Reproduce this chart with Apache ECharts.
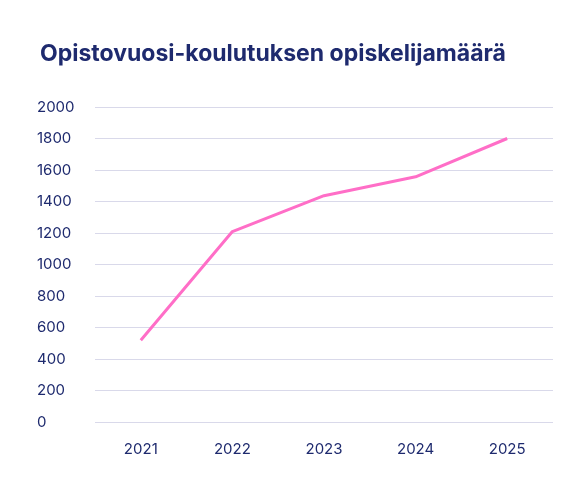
<!DOCTYPE html>
<html><head><meta charset="utf-8">
<script src="https://cdn.jsdelivr.net/npm/echarts@6/dist/echarts.min.js"></script>
<style>html,body{margin:0;padding:0;background:#fff}#c{width:577px;height:492px}</style>
</head><body><div id="c"></div>
<script>
const categories = ['2021','2022','2023','2024','2025'];
const values = [519, 1209, 1437, 1557, 1800];
const navy = '#1e2a6e';
const chart = echarts.init(document.getElementById('c'));
const lbl = {show:true,position:'top',distance:14,color:navy,fontSize:17,fontWeight:'bold',fontFamily:'Inter',formatter:p=>String(p.value)};
chart.setOption({
  animation:false,
  title:{text:'Opistovuosi-koulutuksen opiskelijamäärä',left:35,top:38,
    textStyle:{fontFamily:'Inter',fontWeight:'bold',fontSize:23,color:navy}},
  grid:{left:95,right:24,top:107,bottom:70},
  xAxis:{type:'category',data:categories,boundaryGap:true,
    axisLine:{show:false},axisTick:{show:false},
    axisLabel:{color:navy,fontSize:15,fontFamily:'Inter',margin:20}},
  yAxis:{type:'value',min:0,max:2000,interval:200,
    axisLine:{show:false},axisTick:{show:false},
    splitLine:{lineStyle:{color:'#d9d9ea'}},
    axisLabel:{color:navy,fontSize:15,fontFamily:'Inter',align:'left',margin:58,formatter:v=>String(v)}},
  series:[{type:'line',symbol:'circle',symbolSize:1,showSymbol:true,
    data:values.map((v,i)=>i===0?{value:v,label:{offset:[-14,0]}}:v),
    itemStyle:{color:'#ff6ec7',opacity:0},
    lineStyle:{color:'#ff6ec7',width:3},
    label:lbl
  }]
});
</script></body></html>
